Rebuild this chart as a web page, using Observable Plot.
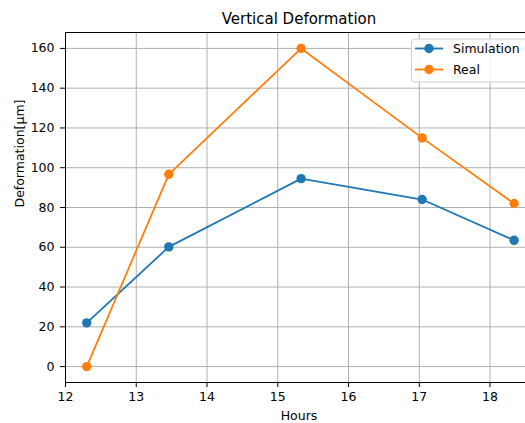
<!DOCTYPE html>
<html>
<head>
<meta charset="utf-8">
<script src="https://cdn.jsdelivr.net/npm/d3@7"></script>
<script src="https://cdn.jsdelivr.net/npm/@observablehq/plot@0.6"></script>
<style>
  html, body { margin: 0; padding: 0; background: #fff; }
  #chart svg { overflow: hidden; display: block; }
  #chart svg g[aria-label$="tick label"] { font-size: 12.5px; }
</style>
</head>
<body>
<div id="chart"></div>
<script>
const hours = [12.3, 13.46, 15.33, 17.04, 18.34];
const simulation = [22, 60.2, 94.5, 84, 63.5];
const real = [0, 96.7, 160, 115, 82];
const seriesNames = ["Simulation", "Real"];
const seriesColors = ["#1f77b4", "#ff7f0e"];
const xTicks = [12, 13, 14, 15, 16, 17, 18];
const yTicks = [0, 20, 40, 60, 80, 100, 120, 140, 160];
const titleText = "Vertical Deformation";
const xLabel = "Hours";
const yLabel = "Deformation[μm]";

const data = [
  ...hours.map((h, i) => ({hours: h, value: simulation[i], series: seriesNames[0]})),
  ...hours.map((h, i) => ({hours: h, value: real[i], series: seriesNames[1]}))
];

const font = "DejaVu Sans, sans-serif";
const chart = Plot.plot({
  width: 525,
  height: 423,
  marginLeft: 65,
  marginRight: -7,
  marginTop: 32,
  marginBottom: 41,
  style: {fontFamily: font, fontSize: "12.5px", color: "#000", background: "#fff"},
  x: {domain: [12, 18.6], ticks: xTicks, label: null},
  y: {domain: [-8, 168], ticks: yTicks, label: null},
  color: {domain: seriesNames, range: seriesColors},
  marks: [
    Plot.gridX(xTicks, {stroke: "#b0b0b0", strokeOpacity: 1, strokeWidth: 1}),
    Plot.gridY(yTicks, {stroke: "#b0b0b0", strokeOpacity: 1, strokeWidth: 1}),
    Plot.frame({stroke: "#000", strokeWidth: 1}),
    Plot.axisX(xTicks, {tickSize: 5, tickPadding: 5, label: null}),
    Plot.axisY(yTicks, {tickSize: 5, tickPadding: 6, label: null}),
    Plot.line(data, {x: "hours", y: "value", z: "series", stroke: "series", strokeWidth: 1.8}),
    Plot.dot(data, {x: "hours", y: "value", fill: "series", r: 4.7, stroke: "none"}),
    Plot.text([titleText], {frameAnchor: "top", dy: -9, lineAnchor: "bottom", fontSize: 15, fill: "#000"}),
    Plot.text([xLabel], {frameAnchor: "bottom", dy: 33, lineAnchor: "middle", fontSize: 12.5, fill: "#000"}),
    Plot.text([yLabel], {frameAnchor: "left", dx: -46, rotate: -90, lineAnchor: "middle", fontSize: 12.5, fill: "#000"})
  ]
});

document.getElementById("chart").appendChild(chart);

// Legend (matplotlib style, upper right)
const svg = d3.select(chart);
const lg = svg.append("g").attr("font-family", font).attr("font-size", "12.5px").attr("text-anchor", "start");
lg.append("rect").attr("x", 411.5).attr("y", 39).attr("width", 130).attr("height", 43)
  .attr("rx", 3).attr("fill", "#fff").attr("fill-opacity", 0.85).attr("stroke", "#d0d0d0");
seriesNames.forEach((name, i) => {
  const cy = 48.5 + i * 21;
  lg.append("line").attr("x1", 415).attr("x2", 443).attr("y1", cy).attr("y2", cy)
    .attr("stroke", seriesColors[i]).attr("stroke-width", 1.8);
  lg.append("circle").attr("cx", 429).attr("cy", cy).attr("r", 4.7).attr("fill", seriesColors[i]);
  lg.append("text").attr("x", 453).attr("y", cy).attr("dy", "0.36em").attr("fill", "#000").text(name);
});
</script>
</body>
</html>
